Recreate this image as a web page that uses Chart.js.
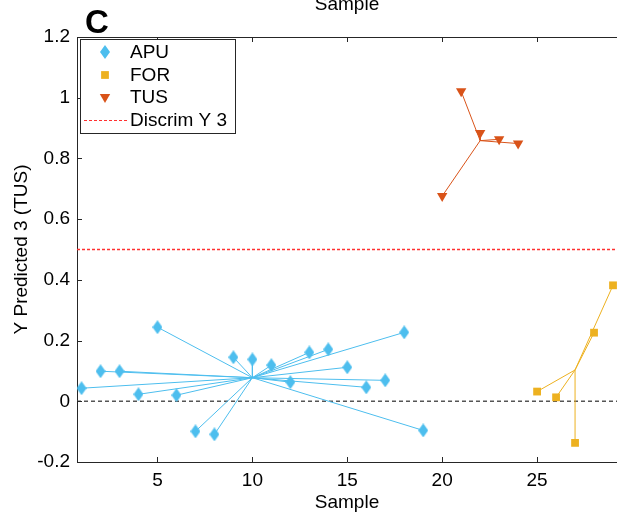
<!DOCTYPE html>
<html>
<head>
<meta charset="utf-8">
<script src="https://cdn.jsdelivr.net/npm/chart.js@4/dist/chart.umd.min.js"></script>
<style>
  html, body { margin: 0; padding: 0; background: #fff; }
  #wrap { width: 617px; height: 516px; position: relative; }
</style>
</head>
<body>
<div id="wrap"><canvas id="c" width="617" height="516"></canvas></div>
<script>
// ---- data ----
const samplesAPU = [1, 2, 3, 4, 5, 6, 7, 8, 9, 10, 11, 12, 13, 14, 15, 16, 17, 18, 19];
const valuesAPU  = [0.043, 0.099, 0.099, 0.023, 0.244, 0.020, -0.099, -0.109, 0.145, 0.138,
                    0.119, 0.063, 0.161, 0.171, 0.112, 0.046, 0.069, 0.227, -0.096];
const samplesTUS = [20, 21, 22, 23, 24];
const valuesTUS  = [0.676, 1.021, 0.884, 0.863, 0.849];
const samplesFOR = [25, 26, 27, 28, 29];
const valuesFOR  = [0.032, 0.013, -0.137, 0.226, 0.382];
const discrimY = 0.5;
const zeroY = 0;
const xTicks = [5, 10, 15, 20, 25];
const yTicks = [-0.2, 0, 0.2, 0.4, 0.6, 0.8, 1, 1.2];
const seriesNames = ['APU', 'FOR', 'TUS', 'Discrim Y 3'];

// ---- styling ----
const colAPU = '#4DBEEE', colFOR = '#EDB120', colTUS = '#D95319', colDiscrim = '#ff3030';
const X_MIN = 0.76, X_MAX = 29.21, Y_MIN = -0.2, Y_MAX = 1.2;
const FONT = 'Arial, "Liberation Sans", Helvetica, sans-serif';

function points(xs, ys) { return xs.map((x, i) => ({ x: x, y: ys[i] })); }
function mean(a) { return a.reduce((s, v) => s + v, 0) / a.length; }
function spokes(xs, ys) {
  const cx = mean(xs), cy = mean(ys);
  const out = [];
  xs.forEach((x, i) => { out.push({ x: x, y: ys[i] }, { x: cx, y: cy }, { x: cx, y: null }); });
  return out;
}

// tall diamond marker like MATLAB's
function diamondImage(w, h, color) {
  const c = document.createElement('canvas');
  c.width = w; c.height = h;
  const g = c.getContext('2d');
  g.fillStyle = color;
  g.beginPath();
  g.moveTo(w / 2, 0); g.lineTo(w, h / 2); g.lineTo(w / 2, h); g.lineTo(0, h / 2);
  g.closePath(); g.fill();
  return c;
}
const diamond = diamondImage(10, 14, colAPU);

const markerStyles = {
  APU: { pointStyle: diamond, radius: 7, rotation: 0, color: colAPU },
  FOR: { pointStyle: 'rect', radius: 5.5, rotation: 0, color: colFOR },
  TUS: { pointStyle: 'triangle', radius: 6, rotation: 180, color: colTUS }
};

function scatterSet(label, xs, ys, st) {
  return {
    label: label, data: points(xs, ys), showLine: false, order: 0,
    pointStyle: st.pointStyle, pointRadius: st.radius, pointRotation: st.rotation,
    backgroundColor: st.color, borderColor: st.color, borderWidth: 0, pointHoverRadius: st.radius
  };
}
function spokeSet(xs, ys, color) {
  return {
    type: 'line', label: '', data: spokes(xs, ys), spanGaps: false, order: 1,
    pointRadius: 0, borderColor: color, backgroundColor: color, borderWidth: 1, fill: false
  };
}
function hline(y, color, dash, width) {
  return {
    type: 'line', label: '', data: [{ x: X_MIN, y: y }, { x: X_MAX, y: y }], order: 2,
    pointRadius: 0, borderColor: color, backgroundColor: color, borderDash: dash, borderWidth: width, fill: false
  };
}

const decor = {
  id: 'decor',
  afterDraw(chart) {
    const ctx = chart.ctx, a = chart.chartArea;
    const xs = chart.scales.x, ys = chart.scales.y;
    ctx.save();
    // top axis line
    ctx.strokeStyle = '#262626'; ctx.lineWidth = 1;
    ctx.beginPath(); ctx.moveTo(a.left, a.top + 0.5); ctx.lineTo(a.right, a.top + 0.5); ctx.stroke();
    // inward ticks
    const tl = 5;
    ctx.beginPath();
    xTicks.forEach(v => {
      const px = Math.round(xs.getPixelForValue(v)) + 0.5;
      ctx.moveTo(px, a.bottom); ctx.lineTo(px, a.bottom - tl);
      ctx.moveTo(px, a.top); ctx.lineTo(px, a.top + tl);
    });
    yTicks.forEach(v => {
      const py = Math.round(ys.getPixelForValue(v)) + 0.5;
      ctx.moveTo(a.left, py); ctx.lineTo(a.left + tl, py);
    });
    ctx.stroke();

    // legend box
    const lx = 80.5, ly = 39.5, lw = 155, lh = 94;
    ctx.fillStyle = '#fff'; ctx.fillRect(lx, ly, lw, lh);
    ctx.strokeStyle = '#262626'; ctx.strokeRect(lx, ly, lw, lh);
    ctx.font = '19px ' + FONT; ctx.fillStyle = '#000';
    ctx.textBaseline = 'middle'; ctx.textAlign = 'left';
    const rows = [52, 75, 97, 120];
    ['APU', 'FOR', 'TUS'].forEach((k, i) => {
      const st = markerStyles[k];
      ctx.fillStyle = st.color; ctx.strokeStyle = st.color; ctx.lineWidth = 0;
      Chart.helpers.drawPoint(ctx, { pointStyle: st.pointStyle, radius: st.radius, rotation: st.rotation, borderWidth: 0 }, 105, rows[i]);
      ctx.fillStyle = '#000';
      ctx.fillText(seriesNames[i], 130, rows[i] + 1);
    });
    ctx.strokeStyle = colDiscrim; ctx.lineWidth = 1; ctx.setLineDash([3, 2]);
    ctx.beginPath(); ctx.moveTo(84, rows[3] + 0.5); ctx.lineTo(127, rows[3] + 0.5); ctx.stroke();
    ctx.setLineDash([]);
    ctx.fillStyle = '#000';
    ctx.fillText(seriesNames[3], 130, rows[3] + 1);

    // panel letter and clipped title of the panel above
    ctx.font = 'bold 33px ' + FONT; ctx.textBaseline = 'alphabetic'; ctx.textAlign = 'center';
    ctx.fillText('C', 97, 33);
    ctx.font = '19px ' + FONT;
    ctx.fillText('Sample', 347, 10);
    ctx.restore();
  }
};

new Chart(document.getElementById('c'), {
  type: 'scatter',
  data: {
    datasets: [
      scatterSet('APU', samplesAPU, valuesAPU, markerStyles.APU),
      scatterSet('FOR', samplesFOR, valuesFOR, markerStyles.FOR),
      scatterSet('TUS', samplesTUS, valuesTUS, markerStyles.TUS),
      spokeSet(samplesAPU, valuesAPU, colAPU),
      spokeSet(samplesFOR, valuesFOR, colFOR),
      spokeSet(samplesTUS, valuesTUS, colTUS),
      hline(discrimY, colDiscrim, [3, 2], 1.3),
      hline(zeroY, '#555555', [4, 3], 1.5)
    ]
  },
  options: {
    responsive: false, animation: false, devicePixelRatio: 1,
    layout: { autoPadding: false, padding: { top: 37, right: 0, left: 0, bottom: 0 } },
    plugins: { legend: { display: false }, tooltip: { enabled: false } },
    scales: {
      x: {
        type: 'linear', min: X_MIN, max: X_MAX,
        afterBuildTicks: s => { s.ticks = xTicks.map(v => ({ value: v })); },
        afterFit: s => { s.height = 54; s.paddingLeft = 0; s.paddingRight = 0; },
        grid: { display: false, drawTicks: false },
        border: { display: true, color: '#262626', width: 1 },
        ticks: { color: '#000', font: { size: 19, family: FONT }, padding: 7, maxRotation: 0, autoSkip: false },
        title: { display: true, text: 'Sample', color: '#000', font: { size: 19, family: FONT }, padding: { top: 0, bottom: 2 } }
      },
      y: {
        type: 'linear', min: Y_MIN, max: Y_MAX,
        afterBuildTicks: s => { s.ticks = yTicks.map(v => ({ value: v })); },
        afterFit: s => { s.width = 77; s.paddingTop = 0; s.paddingBottom = 0; },
        grid: { display: false, drawTicks: false },
        border: { display: true, color: '#262626', width: 1 },
        ticks: { color: '#000', font: { size: 19, family: FONT }, padding: 7, autoSkip: false,
                 callback: v => String(Math.round(v * 10) / 10) },
        title: { display: true, text: 'Y Predicted 3 (TUS)', color: '#000', font: { size: 19, family: FONT }, padding: { top: 10, bottom: 0 } }
      }
    }
  },
  plugins: [decor]
});
</script>
</body>
</html>
